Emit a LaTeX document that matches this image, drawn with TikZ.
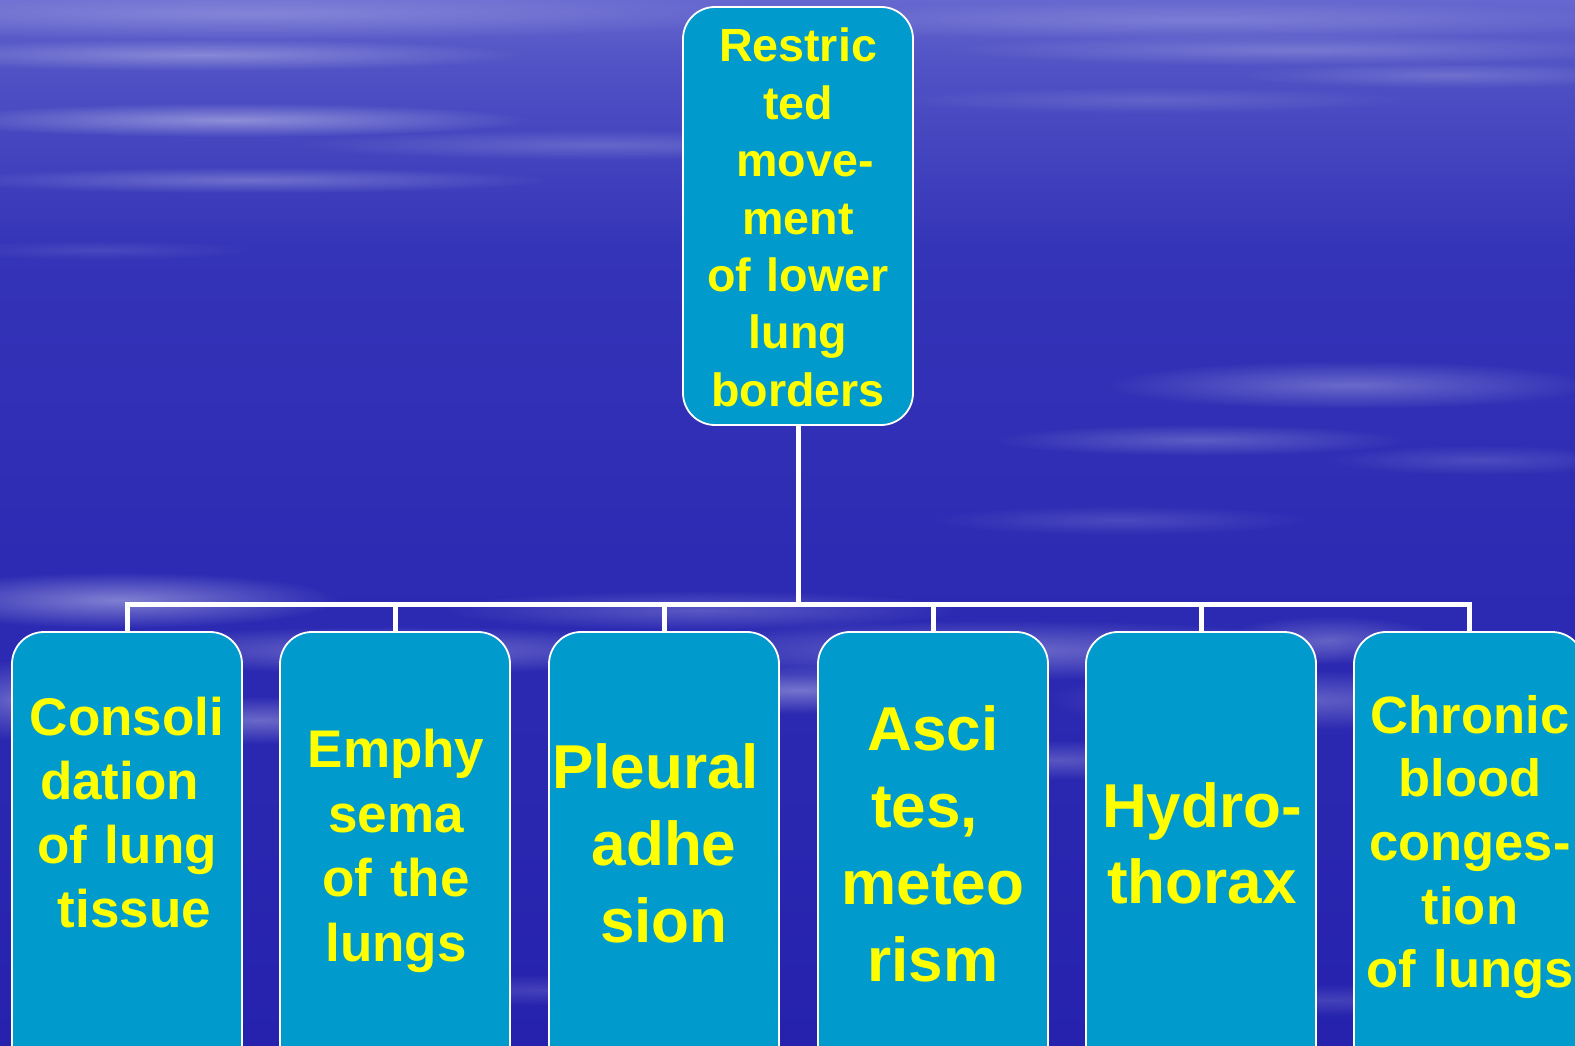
\documentclass[tikz,border=0pt]{standalone}
\usepackage{fontspec}
\setmainfont{Liberation Sans}
\usetikzlibrary{fadings}
\tikzfading[name=softblob, inner color=transparent!0, outer color=transparent!100]
\definecolor{boxfill}{HTML}{009ACC}
\definecolor{txtyel}{HTML}{FFFF00}
\definecolor{bgA}{HTML}{6667CF}
\definecolor{bgB}{HTML}{5253C5}
\definecolor{bgC}{HTML}{3434B8}
\definecolor{bgD}{HTML}{2D2BB3}
\definecolor{bgE}{HTML}{2622AE}
\newcommand\gap[1]{\leavevmode\hbox to #1{}}
\newcommand\fsz[2]{\bfseries\fontsize{#1}{#2}\selectfont}
\newcommand\streak[5]{\fill[white,opacity=#5,path fading=softblob] (#1,-#2) ellipse [x radius=#3pt, y radius=#4pt];}
\begin{document}
\begin{tikzpicture}[x=1pt,y=1pt,
  box/.style={draw=white, line width=1.8pt, fill=boxfill, rounded corners=32pt,
    minimum width=230pt, inner sep=0pt},
  lbl/.style={text=txtyel, align=center, text width=320pt, inner sep=0pt, anchor=base},
  conn/.style={draw=white, line width=5pt}]
\useasboundingbox (0,0) rectangle (1575,-1046);
\clip (0,0) rectangle (1575,-1046);
% background
\fill[top color=bgA, bottom color=bgB] (0,0) rectangle (1575,-60);
\fill[top color=bgB, bottom color=bgC] (0,-60) rectangle (1575,-250);
\fill[top color=bgC, bottom color=bgD] (0,-250) rectangle (1575,-560);
\fill[top color=bgD, bottom color=bgE] (0,-560) rectangle (1575,-1046);
% streaks
\streak{250}{14}{540}{26}{0.22}
\streak{1200}{20}{470}{20}{0.18}
\streak{200}{55}{330}{16}{0.3}
\streak{1300}{50}{360}{16}{0.2}
\streak{230}{120}{300}{17}{0.38}
\streak{1150}{100}{260}{13}{0.13}
\streak{250}{180}{300}{13}{0.25}
\streak{600}{145}{310}{15}{0.18}
\streak{1450}{75}{210}{13}{0.18}
\streak{100}{250}{160}{10}{0.1}
\streak{1350}{385}{250}{24}{0.28}
\streak{1200}{440}{210}{16}{0.22}
\streak{1120}{520}{190}{15}{0.14}
\streak{1480}{460}{160}{15}{0.14}
\streak{120}{600}{220}{28}{0.4}
\streak{400}{650}{310}{24}{0.3}
\streak{700}{610}{260}{20}{0.22}
\streak{1000}{650}{360}{30}{0.3}
\streak{1300}{700}{260}{30}{0.26}
\streak{260}{720}{160}{24}{0.3}
\streak{10}{700}{50}{40}{0.28}
\streak{800}{690}{210}{24}{0.35}
\streak{1060}{760}{160}{20}{0.22}
\streak{1330}{640}{110}{24}{0.26}
\streak{550}{990}{210}{16}{0.14}
\streak{1330}{1000}{160}{16}{0.14}
% boxes
\node[box, minimum height=418pt] (top) at (798,-216) {};
\node[box, minimum height=460pt] (b1) at (127,-862) {};
\node[box, minimum height=460pt] (b2) at (395,-862) {};
\node[box, minimum height=460pt] (b3) at (664,-862) {};
\node[box, minimum height=460pt] (b4) at (933,-862) {};
\node[box, minimum height=460pt] (b5) at (1201,-862) {};
\node[box, minimum height=460pt] (b6) at (1469,-862) {};
% connectors
\coordinate (j) at (798,-604);
\draw[conn] (top.south) -- (j);
\foreach \i in {1,...,6} \draw[conn] (b\i.north) |- (j);
% texts
\node[lbl, font=\fsz{46.6}{57.4}] (ttop) at (798,-62)
  {Restric\\ted\\\gap{14pt}move-\\ment\\of lower\\lung\\borders};
\node[lbl, font=\fsz{53}{64.3}] (t1) at (127,-735)
  {Consoli\\dation\gap{15pt}\\of lung\\\gap{15pt}tissue};
\node[lbl, font=\fsz{53}{64.5}] (t2) at (396,-767.5)
  {Emphy\\sema\\of the\\lungs};
\node[lbl, font=\fsz{62}{77}] (t3) at (664,-788)
  {Pleural\gap{17pt}\\adhe\\sion};
\node[lbl, font=\fsz{62}{77}] (t4) at (933,-750)
  {Asci\\tes,\gap{17pt}\\meteo\\rism};
\node[lbl, font=\fsz{62}{76}] (t5) at (1202,-827)
  {Hydro-\\thorax};
\node[lbl, font=\fsz{52.5}{63.7}] (t6) at (1470,-733)
  {Chronic\\blood\\conges-\\tion\\of lungs};
\end{tikzpicture}
\end{document}
